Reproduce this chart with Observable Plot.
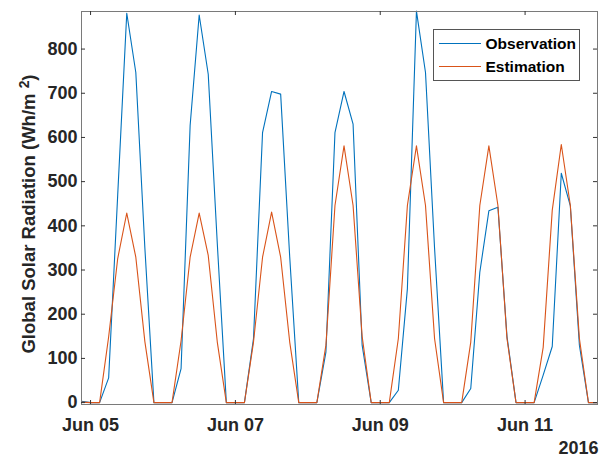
<!DOCTYPE html>
<html>
<head>
<meta charset="utf-8">
<script src="https://cdn.jsdelivr.net/npm/d3@7"></script>
<script src="https://cdn.jsdelivr.net/npm/@observablehq/plot@0.6"></script>
<style>
  html, body { margin: 0; padding: 0; background: #fff; }
</style>
</head>
<body>
<div id="chart"></div>
<script>
// ---- data (3-hourly, starting 2016-06-04 21:00) ----
const startTime = "2016-06-04T21:00:00Z";
const stepHours = 3;
const observation = [3,
  0, 0, 56, 470, 881, 747, 350, 0,
  0, 0, 77, 627, 877, 743, 360, 0,
  0, 0, 145, 611, 704, 698, 330, 0,
  0, 0, 114, 611, 704, 630, 130, 0,
  0, 0, 28, 258, 886, 747, 350, 0,
  0, 0, 32, 295, 434, 442, 150, 0,
  0, 0, 62, 127, 519, 445, 130, 0,
  0];
const estimation = [1,
  0, 0, 149, 326, 429, 329, 138, 0,
  0, 0, 140, 329, 429, 333, 137, 0,
  0, 0, 137, 329, 431, 329, 137, 0,
  0, 0, 130, 446, 581, 446, 150, 0,
  0, 0, 145, 446, 581, 446, 145, 0,
  0, 0, 137, 446, 581, 446, 145, 0,
  0, 0, 125, 435, 584, 446, 145, 0,
  0];
const seriesNames = ["Observation", "Estimation"];
const seriesColors = ["#0072BD", "#D95319"];
const xTickDates = ["2016-06-05", "2016-06-07", "2016-06-09", "2016-06-11"];
const yTicks = [0, 100, 200, 300, 400, 500, 600, 700, 800];
const yDomain = [-4.3, 885];
const xDomain = ["2016-06-04T21:00:00Z", "2016-06-12T00:00:00Z"];
const yLabelMain = "Global Solar Radiation (Wh/m ";
const yLabelSup = "2";
const yLabelEnd = ")";
const yearLabel = "2016";

// ---- build table ----
const t0 = new Date(startTime);
const rows = [];
[observation, estimation].forEach((vals, si) => {
  vals.forEach((v, i) => {
    rows.push({series: seriesNames[si], time: d3.utcHour.offset(t0, i * stepHours), value: v});
  });
});
const xTicks = xTickDates.map(d => new Date(d + "T00:00:00Z"));
const yLabelFull = yLabelMain + yLabelSup + yLabelEnd;

const W = 600, H = 459;
const mL = 81, mR = 3, mT = 11, mB = 55;
const fw = W - mL - mR, fh = H - mT - mB;
const tickLen = 4;
const font = "'Liberation Sans', Arial, Helvetica, sans-serif";
const textColor = "#262626";

const chart = Plot.plot({
  width: W, height: H,
  marginLeft: mL, marginRight: mR, marginTop: mT, marginBottom: mB,
  style: {fontFamily: font, fontSize: "18px", fontWeight: "bold", color: textColor, background: "#fff", overflow: "visible"},
  x: {type: "utc", domain: xDomain.map(d => new Date(d))},
  y: {domain: yDomain},
  color: {domain: seriesNames, range: seriesColors},
  marks: [
    Plot.line(rows, {x: "time", y: "value", z: "series", stroke: "series", strokeWidth: 1.1}),
    Plot.frame({stroke: "#7a7a7a", strokeWidth: 1}),
    // inward tick marks on all four sides
    Plot.tickX(xTicks, {x: d => d, insetTop: fh - tickLen, stroke: "#333"}),
    Plot.tickX(xTicks, {x: d => d, insetBottom: fh - tickLen, stroke: "#333"}),
    Plot.tickY(yTicks, {y: d => d, insetRight: fw - tickLen, stroke: "#333"}),
    Plot.tickY(yTicks, {y: d => d, insetLeft: fw - tickLen, stroke: "#333"}),
    Plot.axisX({ticks: xTicks, tickSize: 0, tickPadding: 14, tickFormat: d3.utcFormat("%b %d"), label: null, fontSize: 18, fontWeight: "bold", fill: textColor}),
    Plot.axisY({ticks: yTicks, tickSize: 0, tickPadding: 4, label: null, fontSize: 18, fontWeight: "bold", fill: textColor}),
    Plot.text([yLabelFull], {frameAnchor: "left", text: d => d, textAnchor: "middle", rotate: -90, dx: -52, dy: 6, fontSize: 18.5, fontWeight: "bold", fill: textColor}),
    Plot.text([yearLabel], {frameAnchor: "bottom-right", text: d => d, textAnchor: "end", dx: 1, dy: 49, fontSize: 18, fontWeight: "bold", fill: textColor})
  ]
});
document.getElementById("chart").appendChild(chart);

// superscript for the unit in the y label
const svg = d3.select(chart);
svg.selectAll("text").filter(function () { return this.textContent === yLabelFull; }).each(function () {
  const t = d3.select(this);
  t.text(null);
  t.append("tspan").text(yLabelMain);
  t.append("tspan").attr("dy", "-0.45em").attr("font-size", "0.75em").text(yLabelSup);
  t.append("tspan").attr("dy", "0.34em").text(yLabelEnd);
});

// ---- legend box (MATLAB-style, top right inside axes) ----
const lg = svg.append("g").attr("font-family", font).attr("font-weight", "bold").attr("font-size", 15.5).attr("text-anchor", "start");
lg.append("rect").attr("x", 433.5).attr("y", 29.5).attr("width", 146).attr("height", 51)
  .attr("fill", "#fff").attr("stroke", "#555").attr("stroke-width", 1);
seriesNames.forEach((name, i) => {
  const y = 43.5 + i * 23;
  lg.append("line").attr("x1", 439).attr("x2", 481).attr("y1", y).attr("y2", y)
    .attr("stroke", seriesColors[i]).attr("stroke-width", 1.1);
  lg.append("text").attr("x", 485.5).attr("y", y).attr("dy", "0.36em").attr("fill", "#000").text(name);
});
</script>
</body>
</html>
